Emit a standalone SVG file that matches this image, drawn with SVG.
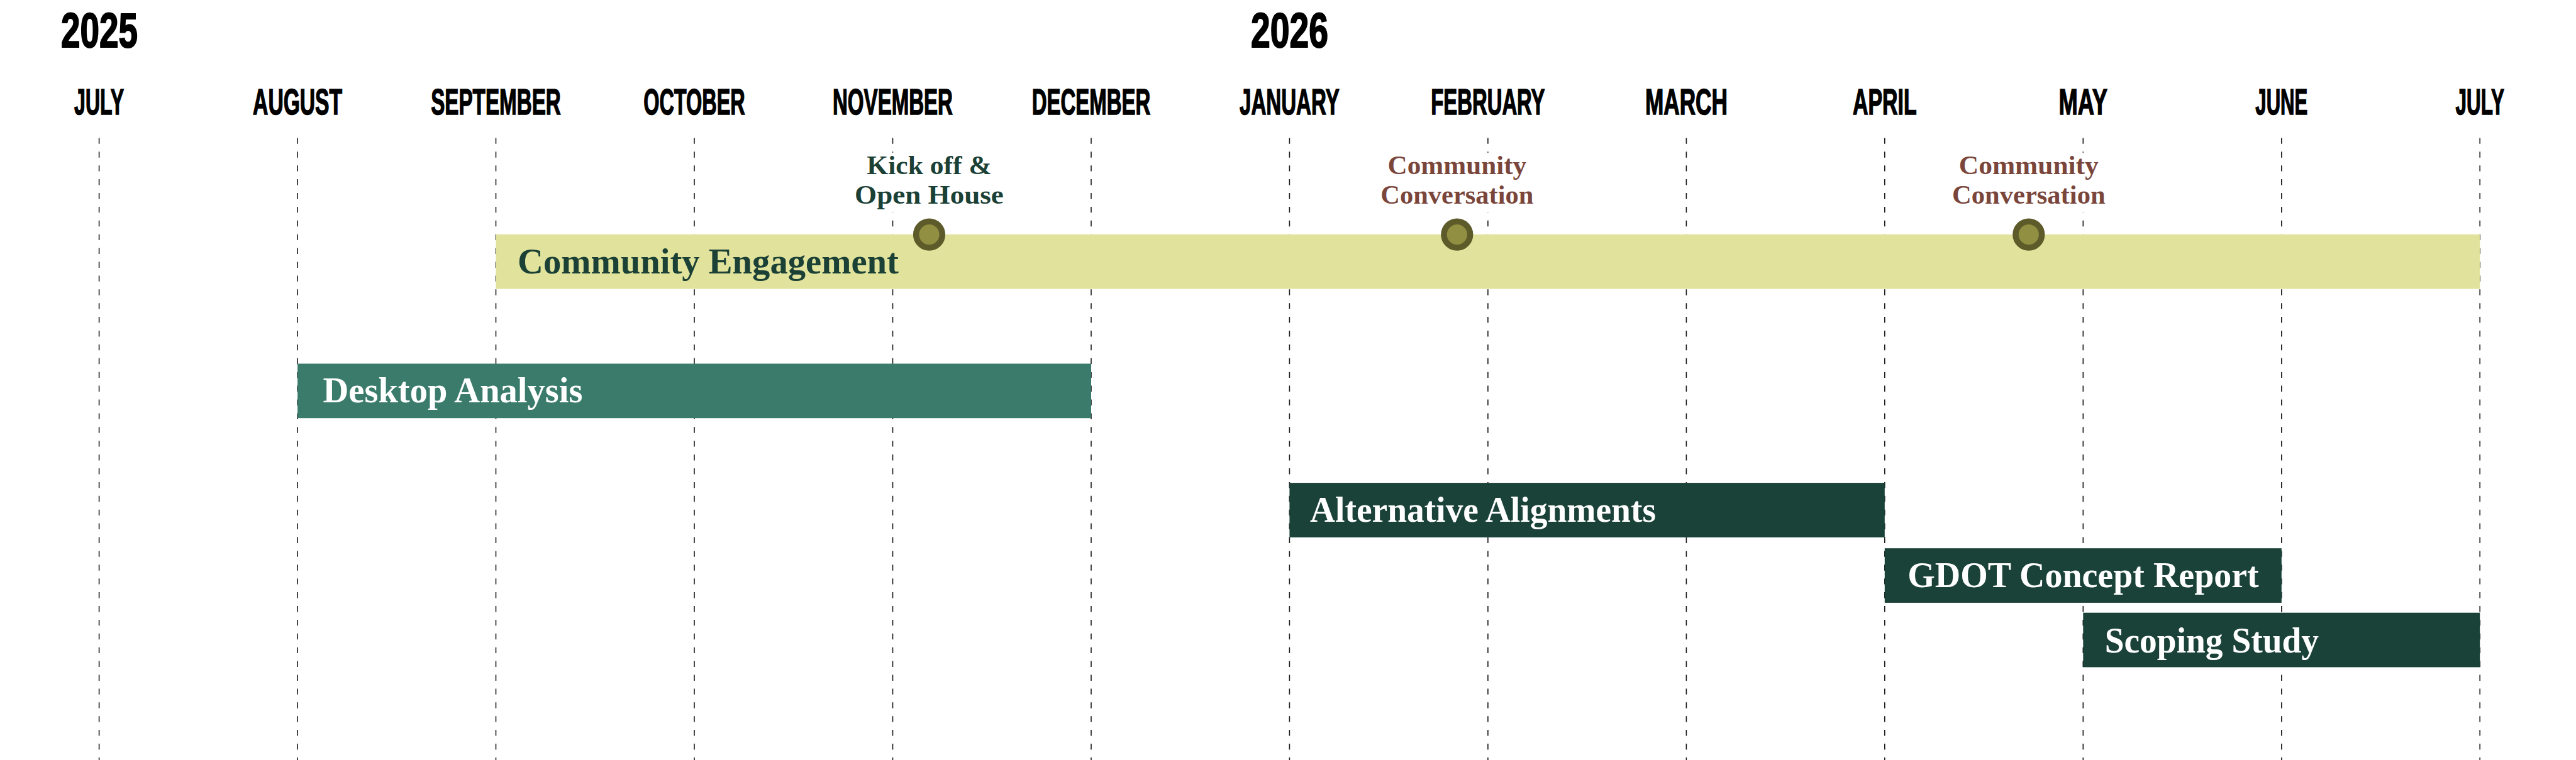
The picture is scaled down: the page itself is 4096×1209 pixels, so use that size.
<svg xmlns="http://www.w3.org/2000/svg" width="4096" height="1209" viewBox="0 0 4096 1209">
<style>
.grid{stroke:#1a1a1a;stroke-width:1.6;stroke-dasharray:9.4 12.5;fill:none}
.month{font-family:"Liberation Sans",Arial,sans-serif;font-weight:bold;font-size:58px;fill:#000;stroke:#000;stroke-width:1.6;text-anchor:middle}
.year{font-family:"Liberation Sans",Arial,sans-serif;font-weight:bold;font-size:78px;fill:#000;stroke:#000;stroke-width:2}
.bartxt{font-family:"Liberation Serif","Times New Roman",serif;font-weight:bold;font-size:56px}
.ms{font-family:"Liberation Serif","Times New Roman",serif;font-weight:bold;font-size:42px;text-anchor:middle}
.kick{fill:#1b4035}
.conv{fill:#7a463b}
.dot{fill:#908f42;stroke:#5e5b2a;stroke-width:9.5}
.labelbg{fill:#fff}
</style>
<rect width="4096" height="1209" fill="#fff"/>
<g id="years">
<text class="year" x="97" y="75.4" textLength="122" lengthAdjust="spacingAndGlyphs">2025</text>
<text class="year" x="1989" y="75.4" textLength="123" lengthAdjust="spacingAndGlyphs">2026</text>
</g>
<g id="months">
<text class="month" x="157.6" y="181.7" textLength="79" lengthAdjust="spacingAndGlyphs">JULY</text>
<text class="month" x="473.1" y="181.7" textLength="142" lengthAdjust="spacingAndGlyphs">AUGUST</text>
<text class="month" x="788.5" y="181.7" textLength="206.6" lengthAdjust="spacingAndGlyphs">SEPTEMBER</text>
<text class="month" x="1104" y="181.7" textLength="161.6" lengthAdjust="spacingAndGlyphs">OCTOBER</text>
<text class="month" x="1419.5" y="181.7" textLength="191" lengthAdjust="spacingAndGlyphs">NOVEMBER</text>
<text class="month" x="1735" y="181.7" textLength="188.7" lengthAdjust="spacingAndGlyphs">DECEMBER</text>
<text class="month" x="2050.4" y="181.7" textLength="158.6" lengthAdjust="spacingAndGlyphs">JANUARY</text>
<text class="month" x="2365.9" y="181.7" textLength="181.2" lengthAdjust="spacingAndGlyphs">FEBRUARY</text>
<text class="month" x="2681.4" y="181.7" textLength="131" lengthAdjust="spacingAndGlyphs">MARCH</text>
<text class="month" x="2996.8" y="181.7" textLength="101.6" lengthAdjust="spacingAndGlyphs">APRIL</text>
<text class="month" x="3312.3" y="181.7" textLength="77.4" lengthAdjust="spacingAndGlyphs">MAY</text>
<text class="month" x="3627.8" y="181.7" textLength="82.9" lengthAdjust="spacingAndGlyphs">JUNE</text>
<text class="month" x="3943.2" y="181.7" textLength="77.5" lengthAdjust="spacingAndGlyphs">JULY</text>
</g>
<g id="gridlines">
<line class="grid" x1="157.6" y1="219.4" x2="157.6" y2="1209"/>
<line class="grid" x1="473.1" y1="219.4" x2="473.1" y2="1209"/>
<line class="grid" x1="788.5" y1="219.4" x2="788.5" y2="1209"/>
<line class="grid" x1="1104" y1="219.4" x2="1104" y2="1209"/>
<line class="grid" x1="1419.5" y1="219.4" x2="1419.5" y2="1209"/>
<line class="grid" x1="1735" y1="219.4" x2="1735" y2="1209"/>
<line class="grid" x1="2050.4" y1="219.4" x2="2050.4" y2="1209"/>
<line class="grid" x1="2365.9" y1="219.4" x2="2365.9" y2="1209"/>
<line class="grid" x1="2681.4" y1="219.4" x2="2681.4" y2="1209"/>
<line class="grid" x1="2996.8" y1="219.4" x2="2996.8" y2="1209"/>
<line class="grid" x1="3312.3" y1="219.4" x2="3312.3" y2="1209"/>
<line class="grid" x1="3627.8" y1="219.4" x2="3627.8" y2="1209"/>
<line class="grid" x1="3943.2" y1="219.4" x2="3943.2" y2="1209"/>
</g>
<g id="community-engagement">
<rect x="788.5" y="372.9" width="3154.7" height="86.7" fill="#e1e39c"/>
<text class="bartxt" x="823" y="435.3" fill="#1b4035" textLength="606" lengthAdjust="spacingAndGlyphs">Community Engagement</text>
</g>
<g id="desktop-analysis">
<rect x="473.1" y="578.5" width="1261.9" height="86.7" fill="#3b7b6b"/>
<text class="bartxt" x="513.5" y="640.4" fill="#fff" textLength="413" lengthAdjust="spacingAndGlyphs">Desktop Analysis</text>
</g>
<g id="alternative-alignments">
<rect x="2050.4" y="768.1" width="946.4" height="86.7" fill="#1a4238"/>
<text class="bartxt" x="2083" y="829.9" fill="#fff" textLength="550" lengthAdjust="spacingAndGlyphs">Alternative Alignments</text>
</g>
<g id="gdot-concept-report">
<rect x="2996.8" y="872.2" width="631" height="86.7" fill="#1a4238"/>
<text class="bartxt" x="3033.3" y="934.4" fill="#fff" textLength="558.4" lengthAdjust="spacingAndGlyphs">GDOT Concept Report</text>
</g>
<g id="scoping-study">
<rect x="3312.3" y="974.7" width="630.9" height="86.7" fill="#1a4238"/>
<text class="bartxt" x="3346.7" y="1037.5" fill="#fff" textLength="340.4" lengthAdjust="spacingAndGlyphs">Scoping Study</text>
</g>
<g id="milestone-kickoff">
<rect class="labelbg" x="1355" y="242.8" width="245" height="95"/>
<text class="ms kick" x="1477.5" y="276.7" textLength="198.3" lengthAdjust="spacingAndGlyphs">Kick off &amp;</text>
<text class="ms kick" x="1477.5" y="324.2" textLength="236.8" lengthAdjust="spacingAndGlyphs">Open House</text>
<circle class="dot" cx="1477.5" cy="373.2" r="20.85"/>
</g>
<g id="milestone-conversation-1">
<rect class="labelbg" x="2191" y="242.8" width="252" height="95"/>
<text class="ms conv" x="2316.8" y="276.7" textLength="220.6" lengthAdjust="spacingAndGlyphs">Community</text>
<text class="ms conv" x="2316.8" y="324.2" textLength="243" lengthAdjust="spacingAndGlyphs">Conversation</text>
<circle class="dot" cx="2316.8" cy="373.2" r="20.85"/>
</g>
<g id="milestone-conversation-2">
<rect class="labelbg" x="3100" y="242.8" width="252" height="95"/>
<text class="ms conv" x="3225.8" y="276.7" textLength="222" lengthAdjust="spacingAndGlyphs">Community</text>
<text class="ms conv" x="3225.8" y="324.2" textLength="243.6" lengthAdjust="spacingAndGlyphs">Conversation</text>
<circle class="dot" cx="3225.8" cy="373.2" r="20.85"/>
</g>
<g id="connectors"/>
</svg>
